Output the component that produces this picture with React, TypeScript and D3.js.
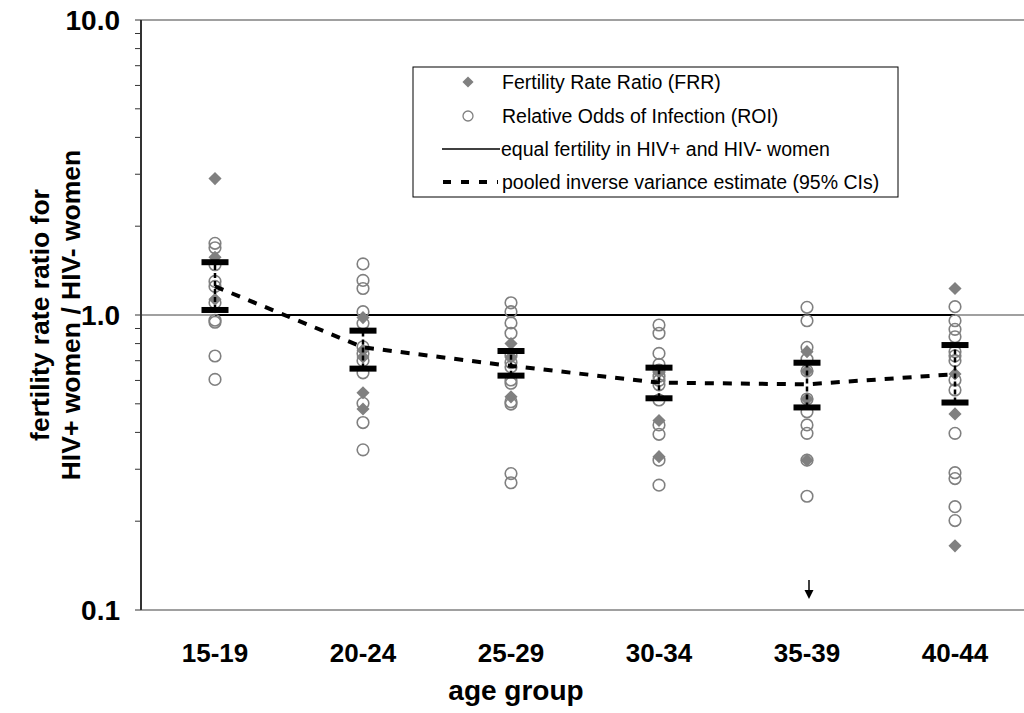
import * as d3 from 'd3';

const ageGroups = ['15-19', '20-24', '25-29', '30-34', '35-39', '40-44'];

// Fertility Rate Ratio (filled diamonds), one list per age group
const frrValues = [
  [2.9, 1.57, 1.13],
  [0.98, 0.76, 0.72, 0.545, 0.48],
  [0.8, 0.72, 0.528],
  [0.64, 0.439, 0.331],
  [0.751, 0.646, 0.519, 0.322],
  [1.23, 0.631, 0.462, 0.165],
];

// Relative Odds of Infection (open circles)
const roiValues = [
  [1.75, 1.69, 1.48, 1.3, 1.25, 1.1, 0.96, 0.945, 0.726, 0.605],
  [1.49, 1.31, 1.23, 1.026, 0.937, 0.78, 0.74, 0.7, 0.637, 0.502, 0.432, 0.349],
  [1.1, 1.026, 0.94, 0.867, 0.73, 0.69, 0.667, 0.602, 0.587, 0.508, 0.499, 0.29, 0.27],
  [0.925, 0.867, 0.741, 0.68, 0.65, 0.62, 0.6, 0.58, 0.515, 0.424, 0.394, 0.322, 0.265],
  [1.062, 0.956, 0.777, 0.708, 0.646, 0.519, 0.47, 0.424, 0.397, 0.322, 0.243],
  [1.067, 0.956, 0.894, 0.844, 0.751, 0.727, 0.7, 0.602, 0.557, 0.397, 0.292, 0.279, 0.224, 0.201],
];

const pooled = [1.25, 0.777, 0.672, 0.59, 0.582, 0.63];
const ciLow = [1.04, 0.658, 0.623, 0.522, 0.486, 0.505];
const ciHigh = [1.51, 0.885, 0.755, 0.663, 0.689, 0.791];

const yTicks = [0.1, 1, 10];
const legendLabels = [
  'Fertility Rate Ratio (FRR)',
  'Relative Odds of Infection (ROI)',
  'equal fertility in HIV+ and HIV- women',
  'pooled inverse variance estimate (95% CIs)',
];

const W = 1024;
const H = 713;
const left = 141;
const right = 1029;
const top = 20;
const bottom = 610;
const font = 'Arial, "Liberation Sans", sans-serif';
const gray = '#808080';

export default function App() {
  const x = d3.scaleBand().domain(ageGroups).range([left, right]).padding(0);
  const y = d3.scaleLog().domain([0.1, 10]).range([bottom, top]);
  const cx = (i: number) => (x(ageGroups[i]) as number) + x.bandwidth() / 2;

  const minorTicks = y.ticks().filter((t) => !yTicks.some((m) => Math.abs(m - t) < 1e-9));
  const diamond = d3.symbol().type(d3.symbolDiamond2).size(110)() as string;
  const line = d3
    .line<number>()
    .x((_, i) => cx(i))
    .y((v) => y(v));

  const legendX = 413;
  const legendRows = [82, 116, 149, 182];

  return (
    <svg width={W} height={H} style={{ position: 'absolute', left: 0, top: 0, background: '#fff' }}>
      {/* frame */}
      <line x1={left} x2={right} y1={top} y2={top} stroke={gray} strokeWidth={1.5} />
      <line x1={left} x2={right} y1={bottom} y2={bottom} stroke={gray} strokeWidth={1.5} />
      <line x1={left} x2={right} y1={y(1)} y2={y(1)} stroke={gray} strokeWidth={1.5} />
      <line x1={cx(0)} x2={cx(5)} y1={y(1)} y2={y(1)} stroke="#000" strokeWidth={2} />

      {/* y axis */}
      <line x1={left} x2={left} y1={top} y2={bottom} stroke="#333" strokeWidth={2} />
      {minorTicks.map((t) => (
        <line key={'m' + t} x1={left - 6} x2={left} y1={y(t)} y2={y(t)} stroke="#333" strokeWidth={1} />
      ))}
      {yTicks.map((t) => (
        <g key={'t' + t}>
          <line x1={left - 6} x2={left} y1={y(t)} y2={y(t)} stroke="#333" strokeWidth={1} />
          <text
            x={120}
            y={y(t)}
            dy="0.35em"
            textAnchor="end"
            fontFamily={font}
            fontWeight="bold"
            fontSize={28}
          >
            {t.toFixed(1)}
          </text>
        </g>
      ))}
      <text
        transform={`translate(40,${(top + bottom) / 2}) rotate(-90)`}
        textAnchor="middle"
        dy="0.35em"
        fontFamily={font}
        fontWeight="bold"
        fontSize={26.5}
      >
        fertility rate ratio for
      </text>
      <text
        transform={`translate(71,${(top + bottom) / 2}) rotate(-90)`}
        textAnchor="middle"
        dy="0.35em"
        fontFamily={font}
        fontWeight="bold"
        fontSize={26.5}
      >
        HIV+ women / HIV- women
      </text>

      {/* x labels */}
      {ageGroups.map((g, i) => (
        <text
          key={g}
          x={cx(i)}
          y={653}
          dy="0.35em"
          textAnchor="middle"
          fontFamily={font}
          fontWeight="bold"
          fontSize={26}
        >
          {g}
        </text>
      ))}
      <text x={516} y={690} dy="0.35em" textAnchor="middle" fontFamily={font} fontWeight="bold" fontSize={28}>
        age group
      </text>

      {/* FRR diamonds */}
      {frrValues.map((vals, i) =>
        vals.map((v, j) => (
          <path key={`d${i}-${j}`} d={diamond} transform={`translate(${cx(i)},${y(v)})`} fill={gray} />
        ))
      )}
      {/* ROI circles */}
      {roiValues.map((vals, i) =>
        vals.map((v, j) => (
          <circle key={`c${i}-${j}`} cx={cx(i)} cy={y(v)} r={5.8} fill="none" stroke={gray} strokeWidth={1.6} />
        ))
      )}

      {/* pooled estimate + CIs */}
      <path d={line(pooled) as string} fill="none" stroke="#000" strokeWidth={4} strokeDasharray="9,9" />
      {ageGroups.map((g, i) => (
        <g key={'ci' + g}>
          <line
            x1={cx(i)}
            x2={cx(i)}
            y1={y(ciLow[i])}
            y2={y(ciHigh[i])}
            stroke="#000"
            strokeWidth={2.5}
            strokeDasharray="5,3"
          />
          <rect x={cx(i) - 13.5} y={y(ciHigh[i]) - 3} width={27} height={6} fill="#000" />
          <rect x={cx(i) - 13.5} y={y(ciLow[i]) - 3} width={27} height={6} fill="#000" />
        </g>
      ))}

      {/* arrow below 35-39 */}
      <line x1={cx(4) + 2} x2={cx(4) + 2} y1={580} y2={592} stroke="#000" strokeWidth={1.5} />
      <path d={`M${cx(4) - 2.5},590 L${cx(4) + 6.5},590 L${cx(4) + 2},599 Z`} fill="#000" />

      {/* legend */}
      <rect x={legendX} y={67} width={485} height={130} fill="#fff" stroke="#000" strokeWidth={1} />
      <path d={diamond} transform={`translate(468,${legendRows[0]}) scale(0.85)`} fill={gray} />
      <circle cx={468} cy={legendRows[1]} r={5} fill="none" stroke={gray} strokeWidth={1.3} />
      <line x1={442} x2={500} y1={legendRows[2]} y2={legendRows[2]} stroke="#000" strokeWidth={1.5} />
      <line
        x1={443}
        x2={498}
        y1={legendRows[3]}
        y2={legendRows[3]}
        stroke="#000"
        strokeWidth={4}
        strokeDasharray="8,10"
      />
      {legendLabels.map((l, i) => (
        <text key={l} x={i === 2 ? 501 : 502} y={legendRows[i]} dy="0.35em" fontFamily={font} fontSize={19.5}>
          {l}
        </text>
      ))}
    </svg>
  );
}
